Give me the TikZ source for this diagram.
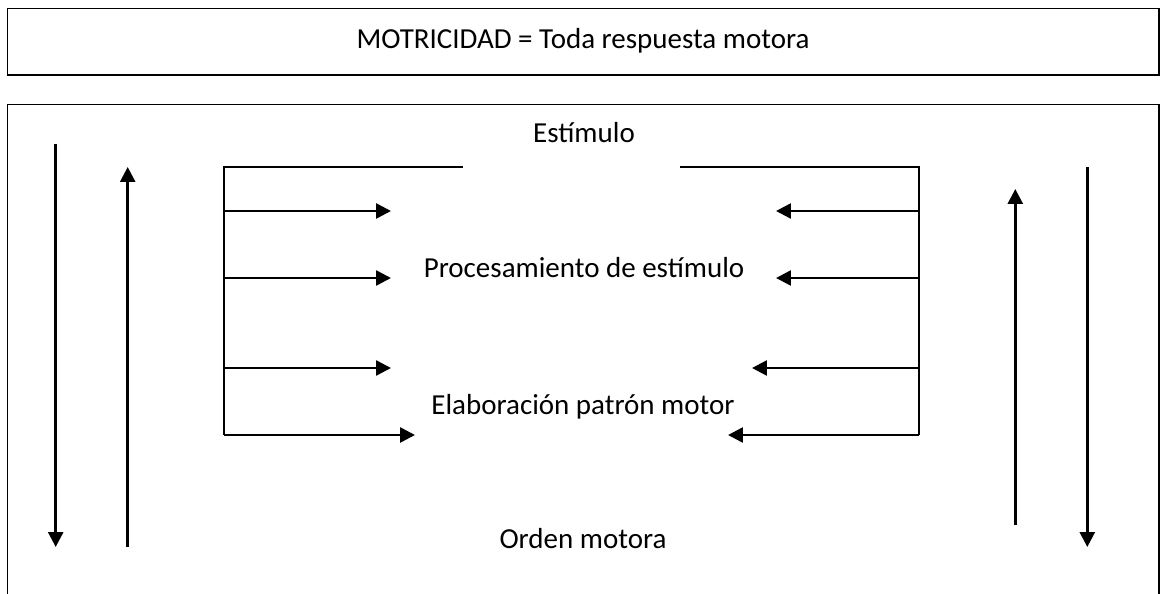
\documentclass[tikz,border=0pt]{standalone}
\usepackage{fontspec}
\setmainfont{Carlito}
\usetikzlibrary{arrows.meta}
\begin{document}
\begin{tikzpicture}[x=0.02cm, y=-0.02cm, >={Triangle[length=8.5pt,width=8.5pt]},
  txt/.style={anchor=base, inner sep=0pt, font=\fontsize{16.5}{20}\selectfont},
  flecha/.style={->, line width=1.5pt},
  marco/.style={line width=1.1pt}]
\useasboundingbox (0,0) rectangle (1162,594);

% recuadro superior
\draw[marco] (7.5,8.5) rectangle (1159,75);
\node[txt] (titulo) at (583,48.3) {MOTRICIDAD = Toda respuesta motora};

% recuadro inferior (abierto por abajo)
\draw[marco] (7.5,594)--(7.5,104.5)--(1159,104.5)--(1159,594);

\node[txt] (estimulo) at (584,143) {Estímulo};
\node[txt] (proceso) at (584,277) {Procesamiento de estímulo};
\node[txt] (patron) at (583,414) {Elaboración patrón motor};
\node[txt] (orden) at (583,548) {Orden motora};

% corchetes
\coordinate (izq) at (224,166.7);  \coordinate (der) at (919.3,166.7);
\draw[marco] (463,166.7)--(izq)--(224,435);
\draw[marco] (680,166.7)--(der)--(919.3,435);

\foreach \y/\xa/\xb in {211/391/776, 278/391/776, 368/391/752, 435/415/728}
{
    \coordinate (a\y) at (\xa,\y);  \coordinate (b\y) at (\xb,\y);
    \draw[flecha] (224,\y)--(a\y);
    \draw[flecha] (919.3,\y)--(b\y);
}

% flechas verticales
\coordinate (s1) at (55.7,144);   \coordinate (e1) at (55.7,547);
\coordinate (s2) at (127.7,547);  \coordinate (e2) at (127.7,167);
\coordinate (s3) at (1015.3,525); \coordinate (e3) at (1015.3,189);
\coordinate (s4) at (1087.3,167); \coordinate (e4) at (1087.3,547);
\draw[flecha] (s1)--(e1);  \draw[flecha] (s2)--(e2);
\draw[flecha] (s3)--(e3);  \draw[flecha] (s4)--(e4);
\end{tikzpicture}
\end{document}
